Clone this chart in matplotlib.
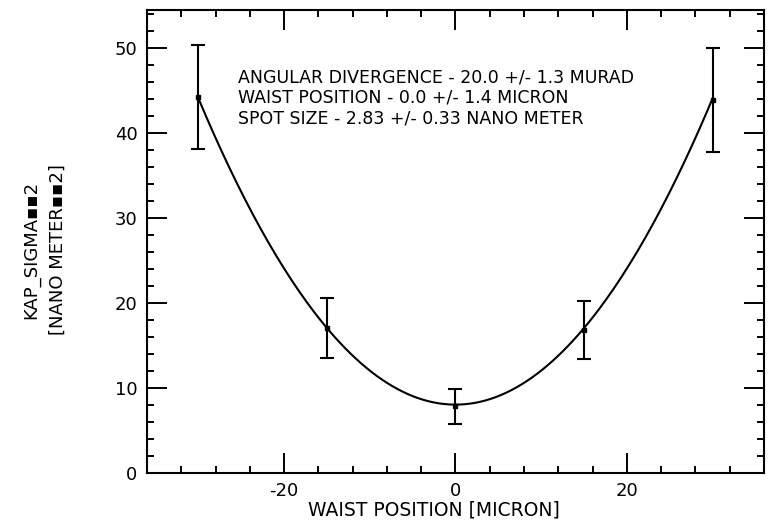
import numpy as np
import matplotlib
matplotlib.use('Agg')
import matplotlib.pyplot as plt
from matplotlib.ticker import MultipleLocator


plt.rcParams.update({'font.family': 'DejaVu Sans', 'font.size': 12.5,
	'axes.unicode_minus': False})


# measured beam size vs. waist position scan
waist_pos = [-30, -15, 0, 15, 30]
sigma2 = [44.2, 17.0, 7.8, 16.8, 43.8]
sigma2_err = [6.1, 3.5, 2.1, 3.45, 6.1]

# fit results
divergence = 20.0
divergence_err = 1.3
waist = 0.0
waist_err = 1.4
spot = 2.83
spot_err = 0.33


def beam_model(z):
	# spot**2 + (divergence * (z - waist))**2, divergence scaled to nm/micron
	return spot**2 + (divergence * 1e-2 * (z - waist))**2


fig = plt.figure(figsize=(7.74, 5.25), dpi=100)
axis = fig.add_axes([0.190, 0.0996, 0.797, 0.881])

z = np.linspace(min(waist_pos), max(waist_pos), 200)
axis.plot(z, beam_model(z), color='black', lw=1.5)
axis.errorbar(waist_pos, sigma2, yerr=sigma2_err, fmt='s', ms=3.5, color='black',
	ecolor='black', elinewidth=1.5, capsize=5, capthick=1.5)

axis.set_xlim(-36, 36)
axis.set_ylim(0, 54.4)
axis.xaxis.set_major_locator(MultipleLocator(20))
axis.xaxis.set_minor_locator(MultipleLocator(4))
axis.yaxis.set_major_locator(MultipleLocator(10))
axis.yaxis.set_minor_locator(MultipleLocator(2))
axis.tick_params(which='both', direction='in', top=True, right=True, width=1.4,
	labelsize=13)
axis.tick_params(which='major', length=14.5, pad=7)
axis.tick_params(which='minor', length=5)
for spine in axis.spines.values():
	spine.set_linewidth(1.5)

info = (f'ANGULAR DIVERGENCE - {divergence:.1f} +/- {divergence_err:.1f} MURAD\n'
	f'WAIST POSITION - {waist:.1f} +/- {waist_err:.1f} MICRON\n'
	f'SPOT SIZE - {spot:.2f} +/- {spot_err:.2f} NANO METER')
axis.text(0.1475, 0.875, info, transform=axis.transAxes, ha='left', va='top',
	linespacing=1.2)

fig.text(0.561, 0.0286, 'WAIST POSITION [MICRON]', ha='center', va='center',
	fontsize=13.5)
fig.text(0.041, 0.524, 'KAP_SIGMA▪▪2', rotation=90, ha='center', va='center',
	fontsize=13)
fig.text(0.075, 0.524, '[NANO METER▪▪2]', rotation=90, ha='center', va='center',
	fontsize=13)

fig.savefig('out.png', dpi=100)
